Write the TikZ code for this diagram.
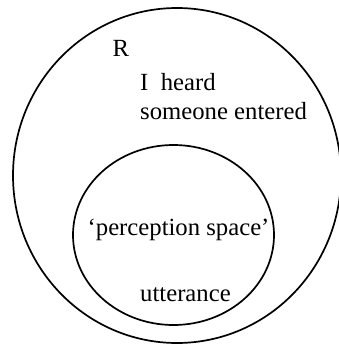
\documentclass[tikz,border=0pt]{standalone}
\usepackage{fontspec}
\setmainfont{Liberation Serif}
\usetikzlibrary{shapes,positioning,calc}

\begin{document}
\begin{tikzpicture}[x=1pt, y=-1pt,
    space/.style={draw, ellipse, line width=1.7pt, inner sep=0pt},
    lbl/.style={inner sep=0pt, font=\fontsize{24.7}{29.5}\selectfont}]
    \useasboundingbox[fill=white] (0,0) rectangle (339,345);

    % Regions
    \node[space, minimum width=328pt, minimum height=335pt] (R) at (177,175.5) {};
    \node[space, minimum width=201pt, minimum height=180pt] (perc) at (173.5,235) {};

    % Labels
    \node[lbl, anchor=base west] (rlabel) at (112.5,56.5) {R};
    \node[lbl, anchor=base west] (heard) at (140,90) {I\ \ heard};
    \node[lbl, anchor=base west] (entered) at ([yshift=-29.5pt]heard.base west) {someone entered};
    \node[lbl, anchor=base west] (perclabel) at (87.5,235) {`perception space'};
    \node[lbl, anchor=base west] (utter) at (140,301) {utterance};
\end{tikzpicture}
\end{document}
